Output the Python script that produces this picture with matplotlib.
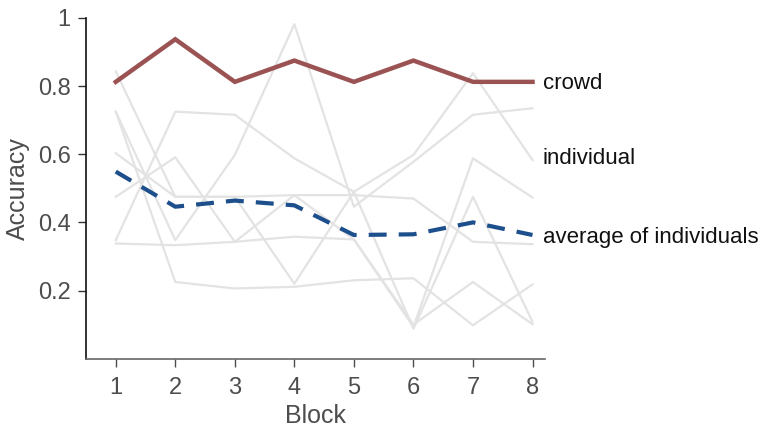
import matplotlib
matplotlib.use("Agg")
import matplotlib.pyplot as plt
import matplotlib.transforms as mtransforms
import numpy as np

plt.rcParams['font.family'] = ['Liberation Sans', 'DejaVu Sans']

blocks = [1, 2, 3, 4, 5, 6, 7, 8]

crowd = [0.8125, 0.9375, 0.8125, 0.875, 0.8125, 0.875, 0.8125, 0.8125]
average = [0.549, 0.446, 0.464, 0.450, 0.363, 0.365, 0.400, 0.363]

ind1 = [0.843, 0.475, 0.475, 0.480, 0.480, 0.470, 0.343, 0.336]
ind2 = [0.725, 0.348, 0.598, 0.982, 0.446, 0.578, 0.716, 0.735]
ind3 = [0.725, 0.225, 0.206, 0.211, 0.230, 0.236, 0.098, 0.218]
ind4 = [0.603, 0.475, 0.475, 0.220, 0.490, 0.088, 0.475, 0.108]
ind5 = [0.475, 0.591, 0.343, 0.358, 0.350, 0.093, 0.588, 0.473]
ind6 = [0.348, 0.725, 0.716, 0.588, 0.490, 0.598, 0.838, 0.583]
ind7 = [0.338, 0.333, 0.343, 0.480, 0.350, 0.100, 0.225, 0.101]
individuals = [ind1, ind2, ind3, ind4, ind5, ind6, ind7]

yticks = [0.2, 0.4, 0.6, 0.8, 1]
ytick_labels = ["0.2", "0.4", "0.6", "0.8", "1"]

fig = plt.figure(figsize=(7.63, 4.28), dpi=100)
ax = fig.add_axes([0.1127, 0.162, 0.6016, 0.796])

grey = "#e3e3e3"
for ind in individuals:
    ax.plot(blocks, ind, color=grey, lw=1.6, zorder=1)

ax.plot(blocks, average, color="#1d4f8c", lw=3.0, linestyle=(0, (4.3, 2.9)),
        zorder=3, dash_capstyle='butt')
ax.plot(blocks, crowd, color="#9b5252", lw=3.2, zorder=4, solid_joinstyle='miter')

ax.set_xlim(0.5, 8.21)
ax.set_ylim(0, 1)
ax.set_xticks(blocks)
ax.set_xticklabels([str(b) for b in blocks])
ax.set_yticks(yticks)
ax.set_yticklabels(ytick_labels)

tc = "#4d4d4d"
ax.tick_params(axis='both', labelsize=17, colors=tc, length=6, width=1, direction='out')
ax.tick_params(axis='x', pad=7)
ax.tick_params(axis='y', colors='#333333', labelcolor=tc, pad=5)
ax.spines['top'].set_visible(False)
ax.spines['right'].set_visible(False)
ax.spines['left'].set_color('#111111')
ax.spines['bottom'].set_color('#666666')
ax.spines['left'].set_linewidth(1.2)
ax.spines['bottom'].set_linewidth(1.2)

ax.set_xlabel("Block", fontsize=18, color=tc, labelpad=4)
ax.set_ylabel("Accuracy", fontsize=18, color=tc, labelpad=6)

off = mtransforms.ScaledTranslation(0, -1.5 / 72, fig.dpi_scale_trans)
for yv, label in [(crowd[-1], "crowd"), (0.595, "individual"),
                  (average[-1], "average of individuals")]:
    ax.text(8.17, yv, label, fontsize=16, color="#111111", va='center', ha='left',
            clip_on=False, transform=ax.transData + off)

fig.savefig("out.png", dpi=100)
